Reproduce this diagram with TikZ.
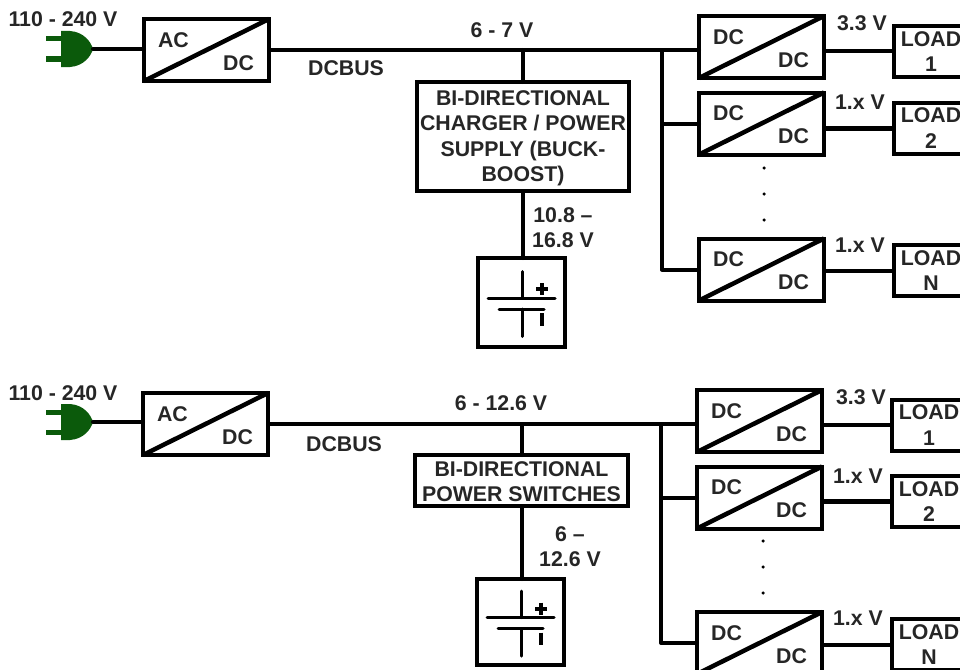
\documentclass[tikz,border=0pt]{standalone}
\usepackage{fontspec}
\setmainfont{Liberation Sans}
\definecolor{plugc}{HTML}{0B5A0B}
\tikzset{
  wire/.style={line width=4pt,line cap=round,line join=miter},
  outw/.style={line width=4pt,line cap=butt},
  boxn/.style={draw,line width=4pt,inner sep=0pt,outer sep=0pt},
  txt/.style={font=\fontsize{21.3}{25.5}\selectfont\bfseries,text=black!85,inner sep=0pt,align=center},
  dotn/.style={circle,fill=black,inner sep=0pt,minimum size=3.5pt},
  symb/.style={line width=3pt,line cap=round}
}
% \conv{name}{cx}{cy}{top text}{bottom text}
\newcommand{\conv}[5]{%
  \node[boxn,minimum width=125pt,minimum height=62pt] (#1) at (#2,#3) {};
  \draw[wire,line width=4.5pt,line cap=butt] (#1.south west) -- (#1.north east);
  \node[txt] (#1t) at (#2-33,#3-10) {#4};
  \node[txt] (#1b) at (#2+32,#3+13) {#5};
}
% \loadn{name}{cy}{left}{number}
\newcommand{\loadn}[4]{%
  \node[boxn,txt,minimum width=74pt,minimum height=51pt] (#1) at (#3+37,#2) {LOAD\\#4};
}
% \batt{name}{cx}{cy}{height}
\newcommand{\batt}[4]{%
  \node[boxn,minimum width=87pt,minimum height=#4pt] (#1) at (#2,#3) {};
  \draw[symb] (#2-33.5,#3-4.5) -- (#2+33.5,#3-4.5);
  \draw[symb] (#2-22.5,#3+6.5) -- (#2+22.5,#3+6.5);
  \draw[symb] (#2+.5,#3-31) -- (#2+.5,#3-4.5);
  \draw[symb] (#2+.5,#3+6.5) -- (#2+.5,#3+34);
  \draw[symb,line width=4pt,line cap=butt] (#2+20.5,#3-19.5) -- (#2+20.5,#3-7.5);
  \draw[symb,line width=4pt,line cap=butt] (#2+14.5,#3-13.5) -- (#2+26.5,#3-13.5);
  \draw[symb,line width=3.5pt,line cap=butt] (#2+20.5,#3+10.5) -- (#2+20.5,#3+23);
}
% \plug{name}{y}
\newcommand{\plug}[2]{%
  \fill[plugc] (61,#2-18) -- (70,#2-18) .. controls (84,#2-17) and (91,#2-7) .. (93,#2)
     .. controls (91,#2+7) and (84,#2+17) .. (70,#2+18) -- (61,#2+18) -- cycle;
  \fill[plugc] (46,#2-12.5) rectangle (61,#2-7.5);
  \fill[plugc] (46,#2+7.5) rectangle (61,#2+12.5);
  \coordinate (#1) at (93,#2);
}
\begin{document}
\begin{tikzpicture}[x=1pt,y=-1pt]
\useasboundingbox (0,0) rectangle (960,669);
% ---------- top
\plug{pa}{49}
\conv{aca}{206.5}{50}{AC}{DC}
\conv{da}{761.5}{47}{DC}{DC}
\conv{db}{761.5}{123.5}{DC}{DC}
\conv{dc}{761.5}{269.5}{DC}{DC}
\loadn{la}{51.5}{894}{1}
\loadn{lb}{128}{894}{2}
\loadn{lc}{270.5}{894}{N}
\node[boxn,minimum width=212pt,minimum height=109pt] (cha) at (523,136.5) {};
\node[txt] (chat) at (523,138.5) {BI-DIRECTIONAL\\CHARGER / POWER\\SUPPLY (BUCK-\\BOOST)};
\batt{ba}{521.5}{302.5}{89}
\coordinate (ja) at (662,51);
\draw[wire] (pa) -- (pa -| aca.west);
\draw[wire] (aca.east) -- (da.west |- aca.east);
\draw[wire] (cha.north) -- (cha.north |- aca.east);
\draw[wire] (cha.south) -- (ba.north -| cha.south);
\draw[wire,line join=round] (ja) |- (dc.west);
\draw[wire] (ja |- db.west) -- (db.west);
\draw[outw] (la.west) -- (la.west -| da.east);
\draw[outw,line width=5pt] (lb.west) -- (lb.west -| db.east);
\draw[outw] (lc.west) -- (lc.west -| dc.east);
\node[txt] (t1) at (63,19) {110 - 240 V};
\node[txt] (t2) at (502,30) {6 - 7 V};
\node[txt] (t3) at (346,68) {DCBUS};
\node[txt] (t4) at (862,23) {3.3 V};
\node[txt] (t5) at (860,102) {1.x V};
\node[txt] (t6) at (860,245) {1.x V};
\node[txt] (t7) at (563,227.5) {10.8 –\\16.8 V};
\node[dotn] (d1) at (764,168) {};
\node[dotn] (d2) at (764,194) {};
\node[dotn] (d3) at (764,220) {};
% ---------- bottom
\plug{pb}{422}
\conv{acb}{205.5}{424}{AC}{DC}
\conv{de}{759.5}{421}{DC}{DC}
\conv{df}{759.5}{497.5}{DC}{DC}
\conv{dg}{759.5}{643}{DC}{DC}
\loadn{le}{425}{892}{1}
\loadn{lf}{501.5}{892}{2}
\loadn{lg}{644.5}{892}{N}
\node[boxn,minimum width=213pt,minimum height=51pt] (chb) at (521.5,480.5) {};
\node[txt] (chbt) at (521.5,481.5) {BI-DIRECTIONAL\\POWER SWITCHES};
\batt{bb}{520.5}{622}{86}
\coordinate (jb) at (661,424);
\draw[wire] (pb) -- (pb -| acb.west);
\draw[wire] (acb.east) -- (de.west |- acb.east);
\draw[wire] (chb.north) -- (chb.north |- acb.east);
\draw[wire] (chb.south) -- (bb.north -| chb.south);
\draw[wire,line join=round] (jb) |- (dg.west);
\draw[wire] (jb |- df.west) -- (df.west);
\draw[outw] (le.west) -- (le.west -| de.east);
\draw[outw,line width=5pt] (lf.west) -- (lf.west -| df.east);
\draw[outw] (lg.west) -- (lg.west -| dg.east);
\node[txt] (t11) at (63,393) {110 - 240 V};
\node[txt] (t12) at (501,403) {6 - 12.6 V};
\node[txt] (t13) at (344,444) {DCBUS};
\node[txt] (t14) at (861,397) {3.3 V};
\node[txt] (t15) at (858,476) {1.x V};
\node[txt] (t16) at (858,618) {1.x V};
\node[txt] (t17) at (570,546.5) {6 –\\12.6 V};
\node[dotn] (d4) at (763,541) {};
\node[dotn] (d5) at (763,567) {};
\node[dotn] (d6) at (763,593) {};
\end{tikzpicture}
\end{document}
